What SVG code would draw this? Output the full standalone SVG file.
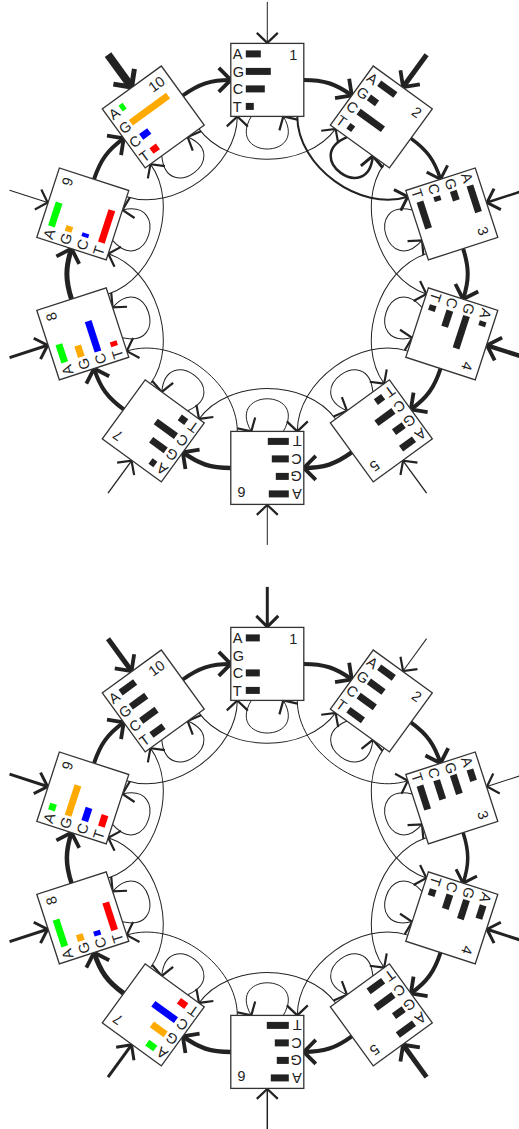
<svg xmlns="http://www.w3.org/2000/svg" width="519" height="1129" viewBox="0 0 519 1129">
<defs>
<style>
.bx{fill:#fff;stroke:#333;stroke-width:1.3}
.lt{font-family:'Liberation Sans',Arial,sans-serif;font-size:14.5px;fill:#222}
.k{fill:#222}.a{fill:#00ff00}.g{fill:#ffaa00}.c{fill:#0000ff}.t{fill:#ff0000}
.e{fill:none;stroke:#222}
</style>
<marker id="h1" markerUnits="userSpaceOnUse" orient="auto" overflow="visible" markerWidth="30" markerHeight="30"><path d="M-10,-10.5 L0,0 L-10,10.5" fill="none" stroke="#222" stroke-width="2.2"/></marker>
<marker id="h2" markerUnits="userSpaceOnUse" orient="auto" overflow="visible" markerWidth="30" markerHeight="30"><path d="M-11,-11 L0,0 L-11,11" fill="none" stroke="#222" stroke-width="3"/></marker>
<marker id="h3" markerUnits="userSpaceOnUse" orient="auto" overflow="visible" markerWidth="30" markerHeight="30"><path d="M-12,-12 L0,0 L-12,12" fill="none" stroke="#222" stroke-width="3.8"/></marker>
<marker id="h4" markerUnits="userSpaceOnUse" orient="auto" overflow="visible" markerWidth="30" markerHeight="30"><path d="M-13,-13 L0,0 L-13,13" fill="none" stroke="#222" stroke-width="5"/></marker>
</defs>
<rect width="519" height="1129" fill="#fff"/>

<g id="connectors" class="e">
 <g id="top-edges" transform="translate(267.3,273.9)">
  <path d="M0,-272 L0,-231" stroke-width="1" marker-end="url(#h1)"/>
  <path d="M0,-271 L0,-231" transform="rotate(36)" stroke-width="5" marker-end="url(#h3)"/>
  <path d="M0,-271 L0,-231" transform="rotate(72)" stroke-width="2.5" marker-end="url(#h2)"/>
  <path d="M0,-271 L0,-231" transform="rotate(108)" stroke-width="4.5" marker-end="url(#h3)"/>
  <path d="M0,-271 L0,-231" transform="rotate(144)" stroke-width="1.3" marker-end="url(#h1)"/>
  <path d="M0,-271 L0,-231" transform="rotate(180)" stroke-width="1" marker-end="url(#h1)"/>
  <path d="M0,-271 L0,-231" transform="rotate(216)" stroke-width="1.3" marker-end="url(#h1)"/>
  <path d="M0,-271 L0,-231" transform="rotate(252)" stroke-width="3" marker-end="url(#h2)"/>
  <path d="M0,-271 L0,-231" transform="rotate(288)" stroke-width="1" marker-end="url(#h1)"/>
  <path d="M0,-271 L0,-231" transform="rotate(324)" stroke-width="8" marker-end="url(#h4)"/>

  <path d="M36.5,-194 C56.5,-194 68.3,-190.2 84.5,-178.4" stroke-width="4" marker-end="url(#h3)"/>
  <path d="M36.5,-194 C56.5,-194 68.3,-190.2 84.5,-178.4" transform="rotate(36)" stroke-width="3.5" marker-end="url(#h2)"/>
  <path d="M36.5,-194 C56.5,-194 68.3,-190.2 84.5,-178.4" transform="rotate(72)" stroke-width="4" marker-end="url(#h3)"/>
  <path d="M36.5,-194 C56.5,-194 68.3,-190.2 84.5,-178.4" transform="rotate(108)" stroke-width="4" marker-end="url(#h3)"/>
  <path d="M36.5,-194 C56.5,-194 68.3,-190.2 84.5,-178.4" transform="rotate(144)" stroke-width="4.5" marker-end="url(#h3)"/>
  <path d="M36.5,-194 C56.5,-194 68.3,-190.2 84.5,-178.4" transform="rotate(180)" stroke-width="4.5" marker-end="url(#h3)"/>
  <path d="M36.5,-194 C56.5,-194 68.3,-190.2 84.5,-178.4" transform="rotate(216)" stroke-width="4" marker-end="url(#h3)"/>
  <path d="M36.5,-194 C56.5,-194 68.3,-190.2 84.5,-178.4" transform="rotate(252)" stroke-width="5" marker-end="url(#h3)"/>
  <path d="M36.5,-194 C56.5,-194 68.3,-190.2 84.5,-178.4" transform="rotate(288)" stroke-width="4" marker-end="url(#h3)"/>
  <path d="M36.5,-194 C56.5,-194 68.3,-190.2 84.5,-178.4" transform="rotate(324)" stroke-width="4" marker-end="url(#h3)"/>

  <path d="M30,-157.5 C30,-107.5 92.95,-61.75 140.5,-77.2" stroke-width="2" marker-end="url(#h2)"/>
  <path d="M30,-157.5 C30,-107.5 92.95,-61.75 140.5,-77.2" transform="rotate(36)" stroke-width="1" marker-end="url(#h1)"/>
  <path d="M30,-157.5 C30,-107.5 92.95,-61.75 140.5,-77.2" transform="rotate(72)" stroke-width="1" marker-end="url(#h1)"/>
  <path d="M30,-157.5 C30,-107.5 92.95,-61.75 140.5,-77.2" transform="rotate(108)" stroke-width="1" marker-end="url(#h1)"/>
  <path d="M30,-157.5 C30,-107.5 92.95,-61.75 140.5,-77.2" transform="rotate(144)" stroke-width="1" marker-end="url(#h1)"/>
  <path d="M30,-157.5 C30,-107.5 92.95,-61.75 140.5,-77.2" transform="rotate(180)" stroke-width="1" marker-end="url(#h1)"/>
  <path d="M30,-157.5 C30,-107.5 92.95,-61.75 140.5,-77.2" transform="rotate(216)" stroke-width="1" marker-end="url(#h1)"/>
  <path d="M30,-157.5 C30,-107.5 92.95,-61.75 140.5,-77.2" transform="rotate(252)" stroke-width="1" marker-end="url(#h1)"/>
  <path d="M30,-157.5 C30,-107.5 92.95,-61.75 140.5,-77.2" transform="rotate(288)" stroke-width="1" marker-end="url(#h1)"/>
  <path d="M30,-157.5 C30,-107.5 92.95,-61.75 140.5,-77.2" transform="rotate(324)" stroke-width="1" marker-end="url(#h1)"/>

  <path d="M-16,-157.5 C-42,-114 42,-114 16,-157.5" stroke-width="1" marker-end="url(#h1)"/>
  <path d="M-16,-157.5 C-42,-114 42,-114 16,-157.5" transform="rotate(36)" stroke-width="2.5" marker-end="url(#h2)"/>
  <path d="M-16,-157.5 C-42,-114 42,-114 16,-157.5" transform="rotate(72)" stroke-width="1" marker-end="url(#h1)"/>
  <path d="M-16,-157.5 C-42,-114 42,-114 16,-157.5" transform="rotate(108)" stroke-width="1" marker-end="url(#h1)"/>
  <path d="M-16,-157.5 C-42,-114 42,-114 16,-157.5" transform="rotate(144)" stroke-width="1" marker-end="url(#h1)"/>
  <path d="M-16,-157.5 C-42,-114 42,-114 16,-157.5" transform="rotate(180)" stroke-width="1" marker-end="url(#h1)"/>
  <path d="M-16,-157.5 C-42,-114 42,-114 16,-157.5" transform="rotate(216)" stroke-width="1" marker-end="url(#h1)"/>
  <path d="M-16,-157.5 C-42,-114 42,-114 16,-157.5" transform="rotate(252)" stroke-width="1" marker-end="url(#h1)"/>
  <path d="M-16,-157.5 C-42,-114 42,-114 16,-157.5" transform="rotate(288)" stroke-width="1" marker-end="url(#h1)"/>
  <path d="M-16,-157.5 C-42,-114 42,-114 16,-157.5" transform="rotate(324)" stroke-width="1" marker-end="url(#h1)"/>
 </g>
 <g id="bottom-edges" transform="translate(267.3,857.9)">
  <path d="M0,-271 L0,-231" stroke-width="3" marker-end="url(#h2)"/>
  <path d="M0,-271 L0,-231" transform="rotate(36)" stroke-width="1" marker-end="url(#h1)"/>
  <path d="M0,-271 L0,-231" transform="rotate(72)" stroke-width="1" marker-end="url(#h1)"/>
  <path d="M0,-271 L0,-231" transform="rotate(108)" stroke-width="3" marker-end="url(#h2)"/>
  <path d="M0,-271 L0,-231" transform="rotate(144)" stroke-width="5" marker-end="url(#h3)"/>
  <path d="M0,-272 L0,-231" transform="rotate(180)" stroke-width="1.5" marker-end="url(#h1)"/>
  <path d="M0,-271 L0,-231" transform="rotate(216)" stroke-width="3" marker-end="url(#h2)"/>
  <path d="M0,-271 L0,-231" transform="rotate(252)" stroke-width="3" marker-end="url(#h2)"/>
  <path d="M0,-271 L0,-231" transform="rotate(288)" stroke-width="3" marker-end="url(#h2)"/>
  <path d="M0,-271 L0,-231" transform="rotate(324)" stroke-width="5" marker-end="url(#h3)"/>

  <path d="M36.5,-194 C56.5,-194 68.3,-190.2 84.5,-178.4" stroke-width="4" marker-end="url(#h3)"/>
  <path d="M36.5,-194 C56.5,-194 68.3,-190.2 84.5,-178.4" transform="rotate(36)" stroke-width="4" marker-end="url(#h3)"/>
  <path d="M36.5,-194 C56.5,-194 68.3,-190.2 84.5,-178.4" transform="rotate(72)" stroke-width="3.5" marker-end="url(#h2)"/>
  <path d="M36.5,-194 C56.5,-194 68.3,-190.2 84.5,-178.4" transform="rotate(108)" stroke-width="4" marker-end="url(#h3)"/>
  <path d="M36.5,-194 C56.5,-194 68.3,-190.2 84.5,-178.4" transform="rotate(144)" stroke-width="4" marker-end="url(#h3)"/>
  <path d="M36.5,-194 C56.5,-194 68.3,-190.2 84.5,-178.4" transform="rotate(180)" stroke-width="4.5" marker-end="url(#h3)"/>
  <path d="M36.5,-194 C56.5,-194 68.3,-190.2 84.5,-178.4" transform="rotate(216)" stroke-width="5" marker-end="url(#h3)"/>
  <path d="M36.5,-194 C56.5,-194 68.3,-190.2 84.5,-178.4" transform="rotate(252)" stroke-width="4.5" marker-end="url(#h3)"/>
  <path d="M36.5,-194 C56.5,-194 68.3,-190.2 84.5,-178.4" transform="rotate(288)" stroke-width="4" marker-end="url(#h3)"/>
  <path d="M36.5,-194 C56.5,-194 68.3,-190.2 84.5,-178.4" transform="rotate(324)" stroke-width="4" marker-end="url(#h3)"/>

  <path d="M30,-157.5 C30,-107.5 92.95,-61.75 140.5,-77.2" stroke-width="1" marker-end="url(#h1)"/>
  <path d="M30,-157.5 C30,-107.5 92.95,-61.75 140.5,-77.2" transform="rotate(36)" stroke-width="1" marker-end="url(#h1)"/>
  <path d="M30,-157.5 C30,-107.5 92.95,-61.75 140.5,-77.2" transform="rotate(72)" stroke-width="1" marker-end="url(#h1)"/>
  <path d="M30,-157.5 C30,-107.5 92.95,-61.75 140.5,-77.2" transform="rotate(108)" stroke-width="1" marker-end="url(#h1)"/>
  <path d="M30,-157.5 C30,-107.5 92.95,-61.75 140.5,-77.2" transform="rotate(144)" stroke-width="1" marker-end="url(#h1)"/>
  <path d="M30,-157.5 C30,-107.5 92.95,-61.75 140.5,-77.2" transform="rotate(180)" stroke-width="1" marker-end="url(#h1)"/>
  <path d="M30,-157.5 C30,-107.5 92.95,-61.75 140.5,-77.2" transform="rotate(216)" stroke-width="1" marker-end="url(#h1)"/>
  <path d="M30,-157.5 C30,-107.5 92.95,-61.75 140.5,-77.2" transform="rotate(252)" stroke-width="1" marker-end="url(#h1)"/>
  <path d="M30,-157.5 C30,-107.5 92.95,-61.75 140.5,-77.2" transform="rotate(288)" stroke-width="1" marker-end="url(#h1)"/>
  <path d="M30,-157.5 C30,-107.5 92.95,-61.75 140.5,-77.2" transform="rotate(324)" stroke-width="1" marker-end="url(#h1)"/>

  <path d="M-16,-157.5 C-42,-114 42,-114 16,-157.5" stroke-width="1" marker-end="url(#h1)"/>
  <path d="M-16,-157.5 C-42,-114 42,-114 16,-157.5" transform="rotate(36)" stroke-width="1" marker-end="url(#h1)"/>
  <path d="M-16,-157.5 C-42,-114 42,-114 16,-157.5" transform="rotate(72)" stroke-width="1" marker-end="url(#h1)"/>
  <path d="M-16,-157.5 C-42,-114 42,-114 16,-157.5" transform="rotate(108)" stroke-width="1" marker-end="url(#h1)"/>
  <path d="M-16,-157.5 C-42,-114 42,-114 16,-157.5" transform="rotate(144)" stroke-width="1" marker-end="url(#h1)"/>
  <path d="M-16,-157.5 C-42,-114 42,-114 16,-157.5" transform="rotate(180)" stroke-width="1" marker-end="url(#h1)"/>
  <path d="M-16,-157.5 C-42,-114 42,-114 16,-157.5" transform="rotate(216)" stroke-width="1" marker-end="url(#h1)"/>
  <path d="M-16,-157.5 C-42,-114 42,-114 16,-157.5" transform="rotate(252)" stroke-width="1" marker-end="url(#h1)"/>
  <path d="M-16,-157.5 C-42,-114 42,-114 16,-157.5" transform="rotate(288)" stroke-width="1" marker-end="url(#h1)"/>
  <path d="M-16,-157.5 C-42,-114 42,-114 16,-157.5" transform="rotate(324)" stroke-width="1" marker-end="url(#h1)"/>
 </g>
</g>

<g id="top-ring" transform="translate(267.3,273.9)">
 <g id="t1" transform="translate(0,-194)">
  <rect class="bx" x="-36.5" y="-36.5" width="73" height="73"/>
  <text class="lt" x="-34.5" y="-20.7">A</text><text class="lt" x="-34.5" y="-3.2">G</text><text class="lt" x="-34.5" y="14.3">C</text><text class="lt" x="-34.5" y="31.8">T</text>
  <text class="lt" x="30" y="-19.5" text-anchor="end">1</text>
  <rect class="k" x="-21.5" y="-29.5" width="15" height="7"/><rect class="k" x="-21.5" y="-12" width="25" height="7"/><rect class="k" x="-21.5" y="5.5" width="19" height="7"/><rect class="k" x="-21.5" y="23" width="8" height="7"/>
 </g>
 <g id="t2" transform="rotate(36) translate(0,-194)">
  <rect class="bx" x="-36.5" y="-36.5" width="73" height="73"/>
  <text class="lt" x="-34.5" y="-20.7">A</text><text class="lt" x="-34.5" y="-3.2">G</text><text class="lt" x="-34.5" y="14.3">C</text><text class="lt" x="-34.5" y="31.8">T</text>
  <text class="lt" x="30" y="-19.5" text-anchor="end">2</text>
  <rect class="k" x="-21.5" y="-29.5" width="20" height="7"/><rect class="k" x="-21.5" y="-12" width="10" height="7"/><rect class="k" x="-21.5" y="5.5" width="30" height="7"/><rect class="k" x="-21.5" y="23" width="6" height="7"/>
 </g>
 <g id="t3" transform="rotate(72) translate(0,-194)">
  <rect class="bx" x="-36.5" y="-36.5" width="73" height="73"/>
  <text class="lt" x="-34.5" y="-20.7">A</text><text class="lt" x="-34.5" y="-3.2">G</text><text class="lt" x="-34.5" y="14.3">C</text><text class="lt" x="-34.5" y="31.8">T</text>
  <text class="lt" x="30" y="-19.5" text-anchor="end">3</text>
  <rect class="k" x="-21.5" y="-29.5" width="28" height="7"/><rect class="k" x="-21.5" y="-12" width="10" height="7"/><rect class="k" x="-21.5" y="5.5" width="5" height="7"/><rect class="k" x="-21.5" y="23" width="28" height="7"/>
 </g>
 <g id="t4" transform="rotate(108) translate(0,-194)">
  <rect class="bx" x="-36.5" y="-36.5" width="73" height="73"/>
  <text class="lt" x="-34.5" y="-20.7">A</text><text class="lt" x="-34.5" y="-3.2">G</text><text class="lt" x="-34.5" y="14.3">C</text><text class="lt" x="-34.5" y="31.8">T</text>
  <text class="lt" x="30" y="-19.5" text-anchor="end">4</text>
  <rect class="k" x="-21.5" y="-29.5" width="5" height="7"/><rect class="k" x="-21.5" y="-12" width="34" height="7"/><rect class="k" x="-21.5" y="5.5" width="17" height="7"/><rect class="k" x="-21.5" y="23" width="6" height="7"/>
 </g>
 <g id="t5" transform="rotate(144) translate(0,-194)">
  <rect class="bx" x="-36.5" y="-36.5" width="73" height="73"/>
  <text class="lt" x="-34.5" y="-20.7">A</text><text class="lt" x="-34.5" y="-3.2">G</text><text class="lt" x="-34.5" y="14.3">C</text><text class="lt" x="-34.5" y="31.8">T</text>
  <text class="lt" x="30" y="-19.5" text-anchor="end">5</text>
  <rect class="k" x="-21.5" y="-29.5" width="16" height="7"/><rect class="k" x="-21.5" y="-12" width="12" height="7"/><rect class="k" x="-21.5" y="5.5" width="21" height="7"/><rect class="k" x="-21.5" y="23" width="9" height="7"/>
 </g>
 <g id="t6" transform="rotate(180) translate(0,-194)">
  <rect class="bx" x="-36.5" y="-36.5" width="73" height="73"/>
  <text class="lt" x="-34.5" y="-20.7">A</text><text class="lt" x="-34.5" y="-3.2">G</text><text class="lt" x="-34.5" y="14.3">C</text><text class="lt" x="-34.5" y="31.8">T</text>
  <text class="lt" x="30" y="-19.5" text-anchor="end">6</text>
  <rect class="k" x="-21.5" y="-29.5" width="20" height="7"/><rect class="k" x="-21.5" y="-12" width="13" height="7"/><rect class="k" x="-21.5" y="5.5" width="17" height="7"/><rect class="k" x="-21.5" y="23" width="21" height="7"/>
 </g>
 <g id="t7" transform="rotate(216) translate(0,-194)">
  <rect class="bx" x="-36.5" y="-36.5" width="73" height="73"/>
  <text class="lt" x="-34.5" y="-20.7">A</text><text class="lt" x="-34.5" y="-3.2">G</text><text class="lt" x="-34.5" y="14.3">C</text><text class="lt" x="-34.5" y="31.8">T</text>
  <text class="lt" x="30" y="-19.5" text-anchor="end">7</text>
  <rect class="k" x="-21.5" y="-29.5" width="6" height="7"/><rect class="k" x="-21.5" y="-12" width="18" height="7"/><rect class="k" x="-21.5" y="5.5" width="25" height="7"/><rect class="k" x="-21.5" y="23" width="8" height="7"/>
 </g>
 <g id="t8" transform="rotate(252) translate(0,-194)">
  <rect class="bx" x="-36.5" y="-36.5" width="73" height="73"/>
  <text class="lt" x="-34.5" y="-20.7">A</text><text class="lt" x="-34.5" y="-3.2">G</text><text class="lt" x="-34.5" y="14.3">C</text><text class="lt" x="-34.5" y="31.8">T</text>
  <text class="lt" x="30" y="-19.5" text-anchor="end">8</text>
  <rect class="a" x="-21.5" y="-29.5" width="19" height="7"/><rect class="g" x="-21.5" y="-12" width="12" height="7"/><rect class="c" x="-21.5" y="5.5" width="32" height="7"/><rect class="t" x="-21.5" y="23" width="5" height="7"/>
 </g>
 <g id="t9" transform="rotate(288) translate(0,-194)">
  <rect class="bx" x="-36.5" y="-36.5" width="73" height="73"/>
  <text class="lt" x="-34.5" y="-20.7">A</text><text class="lt" x="-34.5" y="-3.2">G</text><text class="lt" x="-34.5" y="14.3">C</text><text class="lt" x="-34.5" y="31.8">T</text>
  <text class="lt" x="30" y="-19.5" text-anchor="end">9</text>
  <rect class="a" x="-21.5" y="-29.5" width="25" height="7"/><rect class="g" x="-21.5" y="-12" width="6" height="7"/><rect class="c" x="-21.5" y="5.5" width="4" height="7"/><rect class="t" x="-21.5" y="23" width="34" height="7"/>
 </g>
 <g id="t10" transform="rotate(324) translate(0,-194)">
  <rect class="bx" x="-36.5" y="-36.5" width="73" height="73"/>
  <text class="lt" x="-34.5" y="-20.7">A</text><text class="lt" x="-34.5" y="-3.2">G</text><text class="lt" x="-34.5" y="14.3">C</text><text class="lt" x="-34.5" y="31.8">T</text>
  <text class="lt" x="30" y="-19.5" text-anchor="end">10</text>
  <rect class="a" x="-21.5" y="-29.5" width="5" height="7"/><rect class="g" x="-21.5" y="-12" width="46" height="7"/><rect class="c" x="-21.5" y="5.5" width="10" height="7"/><rect class="t" x="-21.5" y="23" width="8" height="7"/>
 </g>
</g>

<g id="bottom-ring" transform="translate(267.3,857.9)">
 <g id="b1" transform="translate(0,-194)">
  <rect class="bx" x="-36.5" y="-36.5" width="73" height="73"/>
  <text class="lt" x="-34.5" y="-20.7">A</text><text class="lt" x="-34.5" y="-3.2">G</text><text class="lt" x="-34.5" y="14.3">C</text><text class="lt" x="-34.5" y="31.8">T</text>
  <text class="lt" x="30" y="-19.5" text-anchor="end">1</text>
  <rect class="k" x="-21.5" y="-29.5" width="14" height="7"/><rect class="k" x="-21.5" y="5.5" width="14" height="7"/><rect class="k" x="-21.5" y="23" width="14" height="7"/>
 </g>
 <g id="b2" transform="rotate(36) translate(0,-194)">
  <rect class="bx" x="-36.5" y="-36.5" width="73" height="73"/>
  <text class="lt" x="-34.5" y="-20.7">A</text><text class="lt" x="-34.5" y="-3.2">G</text><text class="lt" x="-34.5" y="14.3">C</text><text class="lt" x="-34.5" y="31.8">T</text>
  <text class="lt" x="30" y="-19.5" text-anchor="end">2</text>
  <rect class="k" x="-21.5" y="-29.5" width="18" height="7"/><rect class="k" x="-21.5" y="-12" width="18" height="7"/><rect class="k" x="-21.5" y="5.5" width="20" height="7"/><rect class="k" x="-21.5" y="23" width="18" height="7"/>
 </g>
 <g id="b3" transform="rotate(72) translate(0,-194)">
  <rect class="bx" x="-36.5" y="-36.5" width="73" height="73"/>
  <text class="lt" x="-34.5" y="-20.7">A</text><text class="lt" x="-34.5" y="-3.2">G</text><text class="lt" x="-34.5" y="14.3">C</text><text class="lt" x="-34.5" y="31.8">T</text>
  <text class="lt" x="30" y="-19.5" text-anchor="end">3</text>
  <rect class="k" x="-21.5" y="-29.5" width="12" height="7"/><rect class="k" x="-21.5" y="-12" width="20" height="7"/><rect class="k" x="-21.5" y="5.5" width="20" height="7"/><rect class="k" x="-21.5" y="23" width="25" height="7"/>
 </g>
 <g id="b4" transform="rotate(108) translate(0,-194)">
  <rect class="bx" x="-36.5" y="-36.5" width="73" height="73"/>
  <text class="lt" x="-34.5" y="-20.7">A</text><text class="lt" x="-34.5" y="-3.2">G</text><text class="lt" x="-34.5" y="14.3">C</text><text class="lt" x="-34.5" y="31.8">T</text>
  <text class="lt" x="30" y="-19.5" text-anchor="end">4</text>
  <rect class="k" x="-21.5" y="-29.5" width="14" height="7"/><rect class="k" x="-21.5" y="-12" width="20" height="7"/><rect class="k" x="-21.5" y="5.5" width="15" height="7"/><rect class="k" x="-21.5" y="23" width="7" height="7"/>
 </g>
 <g id="b5" transform="rotate(144) translate(0,-194)">
  <rect class="bx" x="-36.5" y="-36.5" width="73" height="73"/>
  <text class="lt" x="-34.5" y="-20.7">A</text><text class="lt" x="-34.5" y="-3.2">G</text><text class="lt" x="-34.5" y="14.3">C</text><text class="lt" x="-34.5" y="31.8">T</text>
  <text class="lt" x="30" y="-19.5" text-anchor="end">5</text>
  <rect class="k" x="-21.5" y="-29.5" width="20" height="7"/><rect class="k" x="-21.5" y="-12" width="12" height="7"/><rect class="k" x="-21.5" y="5.5" width="22" height="7"/><rect class="k" x="-21.5" y="23" width="18" height="7"/>
 </g>
 <g id="b6" transform="rotate(180) translate(0,-194)">
  <rect class="bx" x="-36.5" y="-36.5" width="73" height="73"/>
  <text class="lt" x="-34.5" y="-20.7">A</text><text class="lt" x="-34.5" y="-3.2">G</text><text class="lt" x="-34.5" y="14.3">C</text><text class="lt" x="-34.5" y="31.8">T</text>
  <text class="lt" x="30" y="-19.5" text-anchor="end">6</text>
  <rect class="k" x="-21.5" y="-29.5" width="18" height="7"/><rect class="k" x="-21.5" y="-12" width="12" height="7"/><rect class="k" x="-21.5" y="5.5" width="14" height="7"/><rect class="k" x="-21.5" y="23" width="22" height="7"/>
 </g>
 <g id="b7" transform="rotate(216) translate(0,-194)">
  <rect class="bx" x="-36.5" y="-36.5" width="73" height="73"/>
  <text class="lt" x="-34.5" y="-20.7">A</text><text class="lt" x="-34.5" y="-3.2">G</text><text class="lt" x="-34.5" y="14.3">C</text><text class="lt" x="-34.5" y="31.8">T</text>
  <text class="lt" x="30" y="-19.5" text-anchor="end">7</text>
  <rect class="a" x="-21.5" y="-29.5" width="10" height="7"/><rect class="g" x="-21.5" y="-12" width="17" height="7"/><rect class="c" x="-21.5" y="5.5" width="28" height="7"/><rect class="t" x="-21.5" y="23" width="9" height="7"/>
 </g>
 <g id="b8" transform="rotate(252) translate(0,-194)">
  <rect class="bx" x="-36.5" y="-36.5" width="73" height="73"/>
  <text class="lt" x="-34.5" y="-20.7">A</text><text class="lt" x="-34.5" y="-3.2">G</text><text class="lt" x="-34.5" y="14.3">C</text><text class="lt" x="-34.5" y="31.8">T</text>
  <text class="lt" x="30" y="-19.5" text-anchor="end">8</text>
  <rect class="a" x="-21.5" y="-29.5" width="28" height="7"/><rect class="g" x="-21.5" y="-12" width="7" height="7"/><rect class="c" x="-21.5" y="5.5" width="5" height="7"/><rect class="t" x="-21.5" y="23" width="29" height="7"/>
 </g>
 <g id="b9" transform="rotate(288) translate(0,-194)">
  <rect class="bx" x="-36.5" y="-36.5" width="73" height="73"/>
  <text class="lt" x="-34.5" y="-20.7">A</text><text class="lt" x="-34.5" y="-3.2">G</text><text class="lt" x="-34.5" y="14.3">C</text><text class="lt" x="-34.5" y="31.8">T</text>
  <text class="lt" x="30" y="-19.5" text-anchor="end">9</text>
  <rect class="a" x="-21.5" y="-29.5" width="7" height="7"/><rect class="g" x="-21.5" y="-12" width="32" height="7"/><rect class="c" x="-21.5" y="5.5" width="14" height="7"/><rect class="t" x="-21.5" y="23" width="12" height="7"/>
 </g>
 <g id="b10" transform="rotate(324) translate(0,-194)">
  <rect class="bx" x="-36.5" y="-36.5" width="73" height="73"/>
  <text class="lt" x="-34.5" y="-20.7">A</text><text class="lt" x="-34.5" y="-3.2">G</text><text class="lt" x="-34.5" y="14.3">C</text><text class="lt" x="-34.5" y="31.8">T</text>
  <text class="lt" x="30" y="-19.5" text-anchor="end">10</text>
  <rect class="k" x="-21.5" y="-29.5" width="18" height="7"/><rect class="k" x="-21.5" y="-12" width="19" height="7"/><rect class="k" x="-21.5" y="5.5" width="19" height="7"/><rect class="k" x="-21.5" y="23" width="15" height="7"/>
 </g>
</g>
</svg>
